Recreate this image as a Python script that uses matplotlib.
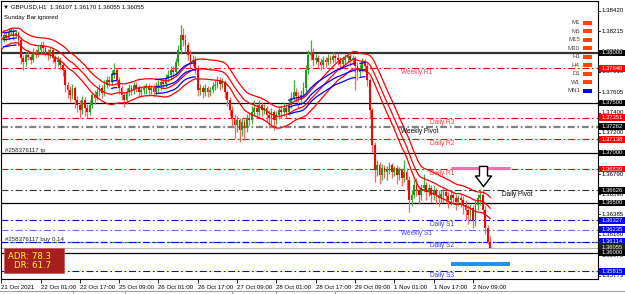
import numpy as np
import pandas as pd
import matplotlib
matplotlib.use('Agg')
import matplotlib.pyplot as plt
from matplotlib.patches import Rectangle
from matplotlib.path import Path

# GBPUSD H1 chart, MT4 style, with pivot levels and ADR box

plt.rcParams['font.family'] = ['Liberation Sans', 'DejaVu Sans']
plt.rcParams['lines.scale_dashes'] = False

symbol_line = '\u25bc GBPUSD,H1  1.36107 1.36170 1.36055 1.36055'

closes = [
    1.3813, 1.3818, 1.3815, 1.3821, 1.3823, 1.3817, 1.3820, 1.3813,
    1.3795, 1.3791, 1.3798, 1.3796, 1.3793, 1.3801, 1.3798,
    1.3803, 1.3808, 1.3805, 1.3801, 1.3798, 1.3803, 1.3795, 1.3791,
    1.3793, 1.3788, 1.3783, 1.3768, 1.3763, 1.3758, 1.3765, 1.3753,
    1.3748, 1.3743, 1.3753, 1.3745, 1.3741, 1.3748, 1.3758, 1.3755,
    1.3761, 1.3765, 1.3760, 1.3768, 1.3773, 1.3771, 1.3778, 1.3783,
    1.3773, 1.3765, 1.3758, 1.3753, 1.3761, 1.3765, 1.3763, 1.3768,
    1.3765, 1.3761, 1.3763, 1.3765,
    1.3767, 1.3763, 1.3765, 1.3761, 1.3767,
    1.3768, 1.3771, 1.3769, 1.3775, 1.3778, 1.3783, 1.3781, 1.3791,
    1.3803, 1.3818, 1.3813, 1.3808, 1.3798, 1.3791, 1.3793,
    1.3785, 1.3763, 1.3765, 1.3761, 1.3765, 1.3761, 1.3763, 1.3767,
    1.3768, 1.3773, 1.3769, 1.3771, 1.3761, 1.3753, 1.3743, 1.3735,
    1.3728, 1.3733, 1.3723, 1.3731, 1.3725, 1.3735, 1.3733, 1.3741,
    1.3745, 1.3741, 1.3748, 1.3743, 1.3745,
    1.3738, 1.3735, 1.3741, 1.3733, 1.3738, 1.3743, 1.3741, 1.3745,
    1.3741, 1.3748, 1.3755, 1.3761, 1.3757, 1.3753, 1.3758, 1.3765,
    1.3783, 1.3798, 1.3801, 1.3793, 1.3795, 1.3791, 1.3788, 1.3793,
    1.3791, 1.3795, 1.3793, 1.3797, 1.3795,
    1.3793, 1.3789, 1.3793, 1.3795, 1.3797, 1.3793, 1.3795, 1.3787,
    1.3781, 1.3785, 1.3791, 1.3787, 1.3773, 1.3743, 1.3708, 1.3683,
    1.3688, 1.3678, 1.3685, 1.3681, 1.3683, 1.3688, 1.3681, 1.3685,
    1.3678, 1.3683, 1.3675, 1.3681, 1.3673, 1.3653, 1.3658, 1.3668,
    1.3663, 1.3658, 1.3665, 1.3668, 1.3661, 1.3665, 1.3658, 1.3663,
    1.3658, 1.3655, 1.3659,
    1.3661, 1.3657, 1.3653, 1.3658, 1.3655, 1.3651,
    1.3655, 1.3653, 1.3648, 1.3643, 1.3638, 1.3645, 1.3633, 1.3648,
    1.3655, 1.3658, 1.3643, 1.3625, 1.36107, 1.36055,
]
highs = [
    1.3817, 1.3823, 1.3821, 1.3825, 1.3826, 1.3825, 1.3823, 1.3822,
    1.3815, 1.3798, 1.3801, 1.3803, 1.3799, 1.3805, 1.3804,
    1.3807, 1.3811, 1.3812, 1.3808, 1.3804, 1.3806, 1.3805, 1.3798,
    1.3797, 1.3796, 1.3791, 1.3785, 1.3771, 1.3767, 1.3769, 1.3767,
    1.3757, 1.3753, 1.3757, 1.3756, 1.3749, 1.3753, 1.3761, 1.3763,
    1.3765, 1.3769, 1.3768, 1.3773, 1.3777, 1.3777, 1.3783, 1.3790,
    1.3785, 1.3776, 1.3768, 1.3761, 1.3765, 1.3769, 1.3768, 1.3771,
    1.3771, 1.3768, 1.3767, 1.3768,
    1.3770, 1.3770, 1.3768, 1.3769, 1.3771,
    1.3773, 1.3775, 1.3774, 1.3779, 1.3783, 1.3787, 1.3787, 1.3795,
    1.3808, 1.3828, 1.3825, 1.3819, 1.3811, 1.3803, 1.3798,
    1.3797, 1.3788, 1.3769, 1.3768, 1.3769, 1.3767, 1.3766, 1.3771,
    1.3773, 1.3777, 1.3776, 1.3775, 1.3773, 1.3763, 1.3756, 1.3747,
    1.3739, 1.3737, 1.3735, 1.3735, 1.3734, 1.3739, 1.3741, 1.3747,
    1.3753, 1.3749, 1.3753, 1.3751, 1.3749,
    1.3747, 1.3743, 1.3745, 1.3743, 1.3742, 1.3747, 1.3748, 1.3751,
    1.3749, 1.3753, 1.3761, 1.3773, 1.3765, 1.3761, 1.3763, 1.3771,
    1.3788, 1.3803, 1.3813, 1.3805, 1.3799, 1.3798, 1.3795, 1.3797,
    1.3796, 1.3799, 1.3798, 1.3801, 1.3800,
    1.3800, 1.3796, 1.3797, 1.3799, 1.3800, 1.3800, 1.3798, 1.3797,
    1.3791, 1.3789, 1.3795, 1.3794, 1.3790, 1.3775, 1.3745, 1.3711,
    1.3693, 1.3691, 1.3689, 1.3688, 1.3687, 1.3691, 1.3690, 1.3687,
    1.3688, 1.3686, 1.3685, 1.3693, 1.3685, 1.3677, 1.3663, 1.3673,
    1.3675, 1.3667, 1.3669, 1.3679, 1.3671, 1.3669, 1.3668, 1.3667,
    1.3665, 1.3663, 1.3663,
    1.3665, 1.3663, 1.3661, 1.3663, 1.3661, 1.3659,
    1.3658, 1.3659, 1.3657, 1.3653, 1.3648, 1.3649, 1.3648, 1.3653,
    1.3659, 1.3664, 1.3663, 1.3647, 1.3628, 1.3617,
]
lows = [
    1.3805, 1.3811, 1.3812, 1.3813, 1.3818, 1.3813, 1.3815, 1.3807,
    1.3789, 1.3783, 1.3787, 1.3793, 1.3789, 1.3791, 1.3795,
    1.3796, 1.3800, 1.3801, 1.3797, 1.3793, 1.3795, 1.3790, 1.3785,
    1.3787, 1.3783, 1.3777, 1.3761, 1.3755, 1.3751, 1.3754, 1.3745,
    1.3741, 1.3735, 1.3739, 1.3737, 1.3735, 1.3738, 1.3745, 1.3749,
    1.3753, 1.3757, 1.3755, 1.3757, 1.3765, 1.3767, 1.3768, 1.3775,
    1.3768, 1.3759, 1.3753, 1.3746, 1.3749, 1.3757, 1.3758, 1.3759,
    1.3761, 1.3756, 1.3757, 1.3759,
    1.3759, 1.3758, 1.3759, 1.3756, 1.3758,
    1.3761, 1.3763, 1.3765, 1.3766, 1.3771, 1.3773, 1.3776, 1.3777,
    1.3788, 1.3799, 1.3807, 1.3801, 1.3793, 1.3785, 1.3787,
    1.3779, 1.3757, 1.3758, 1.3755, 1.3757, 1.3756, 1.3757, 1.3760,
    1.3763, 1.3765, 1.3763, 1.3765, 1.3755, 1.3747, 1.3737, 1.3727,
    1.3715, 1.3721, 1.3711, 1.3717, 1.3713, 1.3721, 1.3727, 1.3729,
    1.3737, 1.3735, 1.3737, 1.3737, 1.3739,
    1.3731, 1.3725, 1.3729, 1.3723, 1.3729, 1.3734, 1.3735, 1.3737,
    1.3735, 1.3738, 1.3745, 1.3753, 1.3751, 1.3745, 1.3749, 1.3755,
    1.3761, 1.3779, 1.3793, 1.3787, 1.3789, 1.3785, 1.3783, 1.3785,
    1.3786, 1.3788, 1.3789, 1.3790, 1.3791,
    1.3788, 1.3783, 1.3785, 1.3789, 1.3791, 1.3787, 1.3789, 1.3763,
    1.3773, 1.3777, 1.3781, 1.3781, 1.3767, 1.3735, 1.3701, 1.3671,
    1.3677, 1.3669, 1.3673, 1.3675, 1.3673, 1.3679, 1.3675, 1.3677,
    1.3669, 1.3673, 1.3667, 1.3671, 1.3663, 1.3641, 1.3647, 1.3655,
    1.3657, 1.3649, 1.3653, 1.3661, 1.3653, 1.3657, 1.3651, 1.3653,
    1.3649, 1.3647, 1.3650,
    1.3651, 1.3650, 1.3645, 1.3648, 1.3649, 1.3643,
    1.3647, 1.3646, 1.3639, 1.3633, 1.3629, 1.3633, 1.3625, 1.3627,
    1.3643, 1.3648, 1.3639, 1.3619, 1.3609, 1.36055,
]
first_open = 1.3810
opens = [first_open] + closes[:-1]

time_labels = ['21 Oct 2021', '22 Oct 01:00', '22 Oct 17:00', '25 Oct 09:00',
               '26 Oct 01:00', '26 Oct 17:00', '27 Oct 09:00', '28 Oct 01:00',
               '28 Oct 17:00', '29 Oct 09:00', '1 Nov 01:00', '1 Nov 17:00',
               '2 Nov 09:00']
bars_per_label = 16

round_levels = [1.38000, 1.37500, 1.37000, 1.36500, 1.36000]
pivot_names = ['Weekly R1', 'Daily R3', 'Weekly Pivot', 'Daily R2', 'Daily R1',
               'Daily Pivot', 'Daily S1', 'Weekly S1', 'Daily S2', 'Daily S3']
pivot_prices = [1.37848, 1.37351, 1.37262, 1.37138, 1.36839,
                1.36626, 1.36327, 1.36235, 1.36114, 1.35815]
scale_ticks = [1.38420, 1.38215, 1.38010, 1.37810, 1.37605, 1.37400, 1.37200,
               1.36995, 1.36790, 1.36590, 1.36385, 1.36180, 1.35975, 1.35773]
bid = 1.36055
buy_price = 1.36108
tp_price = 1.37000
order_ticket = '#258376117'
adr, dr = 78.3, 61.7
adr_high, adr_low = 1.36855, 1.35890
day_start = 183
signal_bar, signal_price = 196, 1.3677

tf_labels = ['M1', 'M5', 'M15', 'M30', 'H1', 'H4', 'D1', 'W1', 'MN1']
tf_colors = ['#FF4500'] * 8 + ['#0000FF']

# ---- layout (pixels) ----
W, H = 625, 294
bar_px = 2.457
fig = plt.figure(figsize=(W / 100, H / 100), dpi=100)
fig.patch.set_facecolor('white')
ax = fig.add_axes([1 / W, 1 - 279 / H, 597 / W, 278 / H])
ax_r = fig.add_axes([598 / W, 1 - 279 / H, 27 / W, 278 / H])
ylim = (1.3574, 1.3852)
ax.set_xlim((1 - 1.2) / bar_px, (598 - 1.2) / bar_px)
ax.set_ylim(*ylim)
ax_r.set_ylim(*ylim)
ax_r.set_xlim(0, 27)
ax_r.axis('off')

dashdot = (0, (5, 2, 1.2, 2))
fs = 4.4

n = len(closes)
x = np.arange(n)
o = np.array(opens)
c = np.array(closes)
hi = np.array(highs)
lo = np.array(lows)
up = c >= o

# indicator bands
cs = pd.Series(c)
red_bands = [pd.Series(hi).rolling(20, min_periods=1).mean() + 0.0002,
             cs.rolling(20, min_periods=1).mean(),
             pd.Series(lo).rolling(20, min_periods=1).mean() - 0.0002]
bmid = cs.ewm(span=30, adjust=False).mean()
rising = bmid.diff().fillna(0) > 0
blue_bands = [bmid + 0.0007, bmid, bmid - 0.0007]

# horizontal lines
for lv in round_levels:
    if lv == 1.38:
        ax.axhline(lv, color='#333333', lw=1.6, zorder=1)
    else:
        ax.axhline(lv, color='black', lw=0.9, zorder=1)
ax.axhline(bid, color='#BBBBBB', lw=0.8, zorder=1)
ax.axhline(buy_price, color='#20A020', lw=0.9, ls=(0, (4, 2)), zorder=1)


def pivot_style(name):
    if 'Pivot' in name:
        if name.startswith('Weekly'):
            return '#808080', 1.6, 'black', 'black'
        return '#333333', 0.8, 'black', 'black'
    if ' R' in name:
        tc = '#EE3D6B' if name.startswith('Weekly') else '#FF3B3B'
        return '#FF0000', 0.8, tc, '#FF0000'
    if name.startswith('Weekly'):
        return '#6666FF', 0.8, '#4040FF', '#0000FF'
    return '#0000FF', 0.8, '#3A3AFF', '#0000FF'


lbl_tr = ax.get_yaxis_transform()
for name, p in zip(pivot_names, pivot_prices):
    lc, lw, tc, bc = pivot_style(name)
    ax.axhline(p, color=lc, lw=lw, ls=dashdot, zorder=1)
    if name == 'Daily Pivot':
        px = 502
    elif name.startswith('Weekly'):
        px = 401
    else:
        px = 430
    ax.text((px - 1) / 597, p - 0.00008, name, transform=lbl_tr, color=tc,
            fontsize=fs + 0.3, va='top', ha='left', zorder=6)

ax.text(4 / 597, tp_price + 0.00004, order_ticket + ' tp', transform=lbl_tr,
        fontsize=fs, va='bottom', ha='left', color='#222222')
ax.text(4 / 597, buy_price + 0.00006, order_ticket + ' buy 0.14', transform=lbl_tr,
        fontsize=fs, va='bottom', ha='left', color='#222222')

# candles
ax.vlines(x[up], lo[up], hi[up], color='#3CB43C', lw=0.9, zorder=3)
ax.vlines(x[~up], lo[~up], hi[~up], color='#FF6060', lw=0.9, zorder=3)
body = np.maximum(np.abs(c - o), 0.00006)
ax.bar(x[up], body[up], bottom=np.minimum(o, c)[up], width=0.72,
       color='#1E9A1E', lw=0, zorder=3)
ax.bar(x[~up], body[~up], bottom=np.minimum(o, c)[~up], width=0.72,
       color='#FF0000', lw=0, zorder=3)

# bands
for b in red_bands:
    ax.plot(x, b, color='#FF0000', lw=0.9, zorder=4)
for b in blue_bands:
    ax.plot(x, b.where(rising), color='#0000FF', lw=0.9, zorder=4)

# ADR projection bars and signal arrow
ax.hlines(adr_high, day_start, day_start + 24, color='#F070B0', lw=2.2, zorder=4)
ax.hlines(adr_low, day_start, day_start + 24, color='#1E8FF0', lw=2.8, zorder=4)
arrow = Path([(-0.4, 1), (0.4, 1), (0.4, 0.05), (0.8, 0.05), (0, -1),
              (-0.8, 0.05), (-0.4, 0.05), (-0.4, 1)],
             [Path.MOVETO] + [Path.LINETO] * 6 + [Path.CLOSEPOLY])
ax.plot([signal_bar], [signal_price], marker=arrow, ms=14.5, mfc='white',
        mec='black', mew=1.0, zorder=7)

# axes styling
ax.set_yticks([])
ticks = np.arange(len(time_labels)) * bars_per_label
ax.set_xticks(ticks)
ax.set_xticklabels(time_labels, ha='left', fontsize=fs)
ax.tick_params(axis='x', length=3, width=0.6, pad=1, direction='out')
for s in ax.spines.values():
    s.set_color('black')
    s.set_linewidth(0.8)

# right price scale
for p in scale_ticks:
    ax_r.plot([0, 2], [p, p], color='black', lw=0.6)
    ax_r.text(3.5, p, '%.5f' % p, fontsize=fs, va='center', ha='left', color='black')

boxes = [(p, 'black') for p in round_levels]
for name, p in zip(pivot_names, pivot_prices):
    boxes.append((p, pivot_style(name)[3]))
boxes.append((bid, '#222222'))
for p, col in sorted(boxes, key=lambda t: -t[0]):
    ax_r.add_patch(Rectangle((1, p - 0.00034), 26, 0.00068, color=col, lw=0, zorder=5))
    ax_r.text(3.5, p, '%.5f' % p, fontsize=fs - 0.2, va='center', ha='left',
              color='white', zorder=6)

# overlay in pixel coordinates for terminal decorations
ov = fig.add_axes([0, 0, 1, 1])
ov.set_xlim(0, W)
ov.set_ylim(H, 0)
ov.axis('off')
ov.patch.set_alpha(0)

ov.text(3, 7, symbol_line, fontsize=fs, va='center', ha='left', color='black')
ov.text(4, 18, 'Sunday Bar ignored', fontsize=fs, va='center', ha='left', color='black')

for k, (lab, col) in enumerate(zip(tf_labels, tf_colors)):
    yy = 22.7 + k * 8.5
    ov.text(580, yy, lab, fontsize=fs, va='center', ha='right', color='#444444')
    ov.add_patch(Rectangle((583, yy - 2), 9, 4, color=col, lw=0))

ov.add_patch(Rectangle((4, 248), 60, 25, facecolor='#A81E1E', edgecolor='#C06060', lw=0.6))
ov.text(51, 256.5, 'ADR: %.1f' % adr, fontsize=6.2, family='DejaVu Sans',
        color='#FFFF20', va='center', ha='right')
ov.text(51, 266, 'DR: %.1f' % dr, fontsize=6.2, family='DejaVu Sans',
        color='#FFFF20', va='center', ha='right')

ov.plot([0, W], [290.5, 290.5], color='#A0A0A0', lw=0.8)
for sx in [73, 125, 232, 276, 335]:
    ov.plot([sx, sx], [290.5, 294], color='#A0A0A0', lw=0.8)

fig.savefig('out.png', dpi=100)
